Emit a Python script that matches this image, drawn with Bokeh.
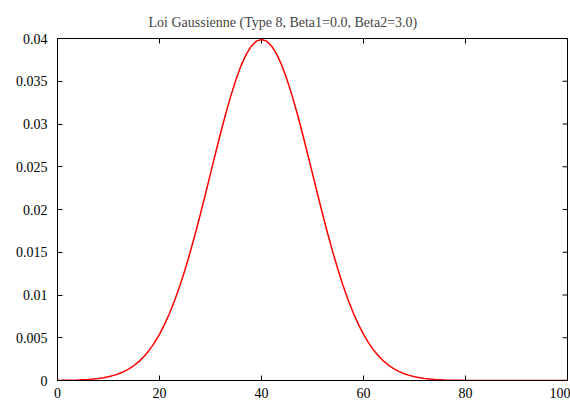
import math
from bokeh.plotting import figure
from bokeh.models import LinearAxis, FixedTicker, Range1d
from bokeh.embed import file_html
from bokeh.resources import INLINE

# Values
x_vals = list(range(0, 101))
y_vals = [0.00001, 0.00002, 0.00003, 0.00004, 0.00006, 0.00009, 0.00012, 0.00017, 0.00024, 0.00033,
          0.00044, 0.00060, 0.00079, 0.00104, 0.00136, 0.00175, 0.00224, 0.00283, 0.00355, 0.00440,
          0.00540, 0.00656, 0.00790, 0.00941, 0.01109, 0.01295, 0.01497, 0.01714, 0.01942, 0.02179,
          0.02420, 0.02661, 0.02897, 0.03123, 0.03332, 0.03521, 0.03683, 0.03814, 0.03910, 0.03969,
          0.03989,
          0.03969, 0.03910, 0.03814, 0.03683, 0.03521, 0.03332, 0.03123, 0.02897, 0.02661, 0.02420,
          0.02179, 0.01942, 0.01714, 0.01497, 0.01295, 0.01109, 0.00941, 0.00790, 0.00656, 0.00540,
          0.00440, 0.00355, 0.00283, 0.00224, 0.00175, 0.00136, 0.00104, 0.00079, 0.00060, 0.00044,
          0.00033, 0.00024, 0.00017, 0.00012, 0.00009, 0.00006, 0.00004, 0.00003, 0.00002, 0.00001,
          0.0, 0.0, 0.0, 0.0, 0.0, 0.0, 0.0, 0.0, 0.0, 0.0,
          0.0, 0.0, 0.0, 0.0, 0.0, 0.0, 0.0, 0.0, 0.0, 0.0]

x_ticks = [0, 20, 40, 60, 80, 100]
y_ticks = [0, 0.005, 0.01, 0.015, 0.02, 0.025, 0.03, 0.035, 0.04]
y_tick_labels = ["0", "0.005", "0.01", "0.015", "0.02", "0.025", "0.03", "0.035", "0.04"]
title_text = "Loi Gaussienne  (Type 8, Beta1=0.0, Beta2=3.0)"

FONT = "Liberation Serif"
X_MIN, X_MAX = 0, 100
Y_MIN, Y_MAX = 0, 0.04

p = figure(width=570, height=400, output_backend="svg", toolbar_location=None,
           x_range=Range1d(X_MIN, X_MAX), y_range=Range1d(Y_MIN, Y_MAX),
           x_axis_location=None, y_axis_location=None,
           min_border_left=57, min_border_right=3, min_border_top=38, min_border_bottom=0)

p.title.text = title_text
p.title.text_font = FONT
p.title.text_font_size = "14px"
p.title.text_font_style = "normal"
p.title.align = "left"
p.title.offset = 91
p.title.standoff = 18

p.xgrid.visible = False
p.ygrid.visible = False
p.outline_line_color = "black"
p.outline_line_width = 1
p.background_fill_color = "white"
p.border_fill_color = "white"

def style(ax):
    ax.axis_line_color = "black"
    ax.major_tick_in = 5
    ax.major_tick_out = 0
    ax.minor_tick_in = 0
    ax.minor_tick_out = 0
    ax.major_tick_line_color = "black"
    ax.major_label_text_font = FONT
    ax.major_label_text_color = "black"
    ax.major_label_text_font_size = "14px"

xb = LinearAxis(ticker=FixedTicker(ticks=x_ticks))
style(xb)
xb.major_label_standoff = 7
p.add_layout(xb, "below")

yl = LinearAxis(ticker=FixedTicker(ticks=y_ticks))
style(yl)
yl.major_label_standoff = 10
yl.major_label_overrides = {t: l for t, l in zip(y_ticks, y_tick_labels)}
p.add_layout(yl, "left")

# mirrored inward ticks on top and right edges of the frame
p.ray(x=x_ticks, y=[Y_MAX] * len(x_ticks), length=5, length_units="screen",
      angle=-math.pi / 2, line_color="black", line_width=1)
p.ray(x=[X_MAX] * len(y_ticks), y=y_ticks, length=5, length_units="screen",
      angle=math.pi, line_color="black", line_width=1)

p.line(x_vals, y_vals, line_color="#ff0000", line_width=1.5)

open("out.html", "w").write(file_html(p, INLINE))
